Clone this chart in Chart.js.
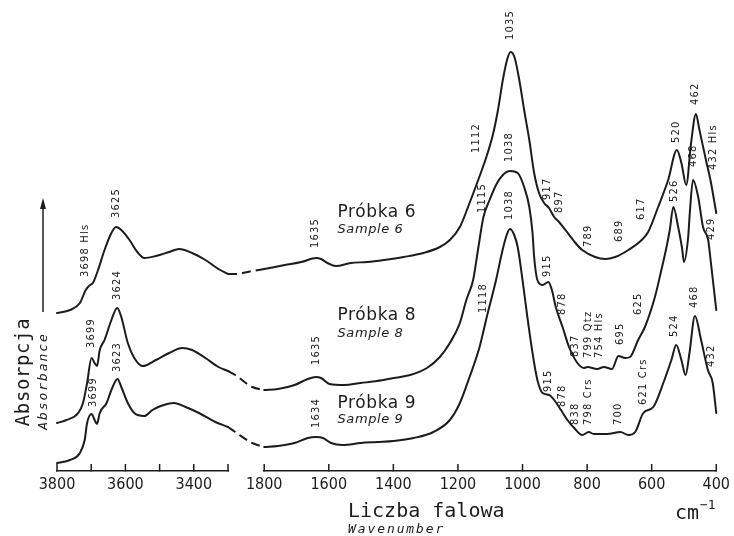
<!DOCTYPE html>
<html>
<head>
<meta charset="utf-8">
<script src="https://cdn.jsdelivr.net/npm/chart.js"></script>
<style>
  html, body { margin: 0; padding: 0; background: #fff; }
  canvas { display: block; }
</style>
</head>
<body>
<canvas id="ir" width="734" height="536"></canvas>
<script>
// --- spectra (absorbance in arbitrary units) ---
// OH-stretch region (3800-3300 cm-1)
const waveHi6 = [3800, 3762, 3733, 3716, 3703, 3695, 3680, 3661, 3641, 3627, 3612, 3588, 3565, 3545, 3511, 3472, 3443, 3405, 3366, 3328, 3300];
const absHi6 = [1.58, 1.61, 1.68, 1.81, 1.86, 1.88, 2.01, 2.21, 2.38, 2.44, 2.41, 2.31, 2.19, 2.13, 2.15, 2.19, 2.22, 2.18, 2.11, 2.02, 1.97];
const waveHi8 = [3800, 3772, 3738, 3724, 3712, 3699, 3690, 3683, 3675, 3661, 3641, 3624, 3612, 3593, 3574, 3550, 3511, 3472, 3434, 3405, 3366, 3328, 3300];
const absHi8 = [0.48, 0.51, 0.58, 0.68, 0.88, 1.13, 1.08, 1.05, 1.21, 1.31, 1.51, 1.63, 1.54, 1.28, 1.13, 1.05, 1.11, 1.18, 1.23, 1.21, 1.13, 1.04, 1.00];
const waveHi9 = [3800, 3762, 3733, 3719, 3712, 3699, 3690, 3683, 3675, 3655, 3641, 3623, 3612, 3593, 3574, 3545, 3521, 3497, 3458, 3424, 3385, 3337, 3300];
const absHi9 = [0.08, 0.11, 0.18, 0.31, 0.48, 0.57, 0.51, 0.47, 0.58, 0.68, 0.81, 0.92, 0.84, 0.68, 0.58, 0.55, 0.61, 0.65, 0.68, 0.64, 0.58, 0.49, 0.44];

// broken-axis bridge (dashed)
const waveGap = [3300, 3000, 2300, 1800];
const absGap6 = [1.97, 1.97, 2.00, 2.02];
const absGap8 = [1.00, 0.96, 0.84, 0.81];
const absGap9 = [0.44, 0.39, 0.28, 0.24];

// fingerprint region (1800-400 cm-1)
const waveLo6 = [1800, 1736, 1685, 1639, 1624, 1604, 1578, 1532, 1481, 1429, 1368, 1307, 1256, 1225, 1194, 1164, 1143, 1112, 1092, 1076, 1061, 1048, 1037, 1025, 1010, 995, 979, 964, 949, 933, 918, 902, 887, 867, 836, 815, 775, 744, 713, 672, 631, 611, 580, 549, 522, 508, 493, 478, 463, 452, 432, 418, 400];
const absLo6 = [2.02, 2.06, 2.09, 2.13, 2.12, 2.08, 2.05, 2.08, 2.09, 2.11, 2.14, 2.18, 2.24, 2.31, 2.44, 2.68, 2.86, 3.14, 3.36, 3.61, 3.91, 4.11, 4.19, 4.14, 3.91, 3.61, 3.31, 2.98, 2.78, 2.68, 2.63, 2.54, 2.49, 2.41, 2.28, 2.21, 2.14, 2.12, 2.14, 2.21, 2.31, 2.39, 2.64, 2.91, 3.21, 3.08, 2.86, 3.28, 3.57, 3.41, 3.11, 2.91, 2.58];
const waveLo8 = [1800, 1757, 1706, 1665, 1640, 1624, 1598, 1552, 1501, 1450, 1399, 1348, 1296, 1256, 1225, 1194, 1174, 1153, 1138, 1121, 1102, 1082, 1061, 1039, 1015, 995, 979, 969, 964, 954, 938, 920, 909, 897, 876, 856, 830, 810, 799, 769, 748, 723, 703, 682, 667, 642, 621, 590, 570, 554, 544, 533, 518, 506, 500, 487, 482, 472, 456, 441, 425, 420, 400];
const absLo8 = [0.81, 0.82, 0.86, 0.92, 0.94, 0.93, 0.87, 0.86, 0.88, 0.90, 0.93, 0.96, 1.03, 1.14, 1.28, 1.48, 1.71, 1.91, 2.21, 2.54, 2.71, 2.86, 2.96, 3.00, 2.98, 2.84, 2.64, 2.38, 2.14, 1.91, 1.86, 1.89, 1.81, 1.64, 1.44, 1.24, 1.08, 1.03, 1.04, 1.02, 1.04, 1.02, 1.15, 1.13, 1.14, 1.31, 1.44, 1.74, 2.01, 2.24, 2.41, 2.64, 2.44, 2.23, 2.09, 2.34, 2.58, 2.91, 2.74, 2.44, 2.31, 2.18, 1.61];
const waveLo9 = [1800, 1757, 1706, 1665, 1640, 1618, 1593, 1557, 1501, 1450, 1399, 1337, 1276, 1225, 1194, 1164, 1133, 1110, 1082, 1061, 1049, 1039, 1027, 1015, 1000, 985, 969, 954, 938, 917, 902, 881, 861, 840, 815, 795, 779, 738, 697, 672, 651, 626, 595, 564, 539, 524, 508, 495, 483, 466, 447, 426, 411, 400];
const absLo9 = [0.24, 0.25, 0.28, 0.33, 0.34, 0.33, 0.28, 0.26, 0.28, 0.29, 0.30, 0.33, 0.39, 0.51, 0.68, 0.94, 1.24, 1.55, 1.91, 2.22, 2.36, 2.42, 2.37, 2.24, 1.91, 1.54, 1.18, 0.91, 0.78, 0.76, 0.71, 0.61, 0.51, 0.43, 0.36, 0.39, 0.37, 0.37, 0.39, 0.36, 0.39, 0.58, 0.64, 0.88, 1.11, 1.26, 1.11, 0.96, 1.18, 1.55, 1.31, 1.01, 0.88, 0.58];

// peak labels: [text, wavenumber at label, absorbance at label foot]
const peaks6 = [["3698 Hls", 3719, 1.94], ["3625", 3627, 2.53], ["1635", 1641, 2.23], ["1112", 1145, 3.18], ["1035", 1039, 4.31], ["917", 923, 2.71], ["897", 887, 2.58], ["789", 797, 2.24], ["689", 701, 2.29], ["617", 634, 2.51], ["520", 523, 3.28], ["462", 464, 3.66], ["432 Hls", 411, 3.01]];
const peaks8 = [["3699", 3699, 1.23], ["3624", 3625, 1.71], ["1635", 1639, 1.06], ["1115", 1125, 2.58], ["1038", 1041, 3.09], ["915", 923, 1.94], ["878", 877, 1.56], ["837", 836, 1.14], ["799 Qtz", 797, 1.13], ["754 Hls", 762, 1.13], ["695", 698, 1.26], ["625", 641, 1.56], ["526", 531, 2.69], ["468", 472, 3.04], ["429", 416, 2.31]];
const peaks9 = [["3699", 3693, 0.64], ["3623", 3625, 0.99], ["1634", 1639, 0.43], ["1118", 1122, 1.58], ["1038", 1041, 2.51], ["915", 920, 0.79], ["878", 877, 0.64], ["838", 836, 0.46], ["798 Crs", 797, 0.46], ["700", 703, 0.46], ["621 Crs", 626, 0.66], ["524", 531, 1.34], ["468", 467, 1.63], ["432", 416, 1.04]];

// sample captions: [Polish, English, wavenumber, absorbance of first line, of second line]
const samples = [["Próbka 6", "Sample 6", 1573, 2.54, 2.38], ["Próbka 8", "Sample 8", 1573, 1.51, 1.34], ["Próbka 9", "Sample 9", 1573, 0.63, 0.48]];

const INK = "#1c1c1c";

function curve(axis, waves, abs, dashed) {
    return {
        xAxisID: axis,
        yAxisID: "y",
        data: waves.map((w, i) => ({ x: w, y: abs[i] })),
        borderColor: INK,
        borderWidth: 2,
        pointRadius: 0,
        fill: false,
        clip: false,
        cubicInterpolationMode: "monotone",
        borderDash: dashed ? [9, 5] : [],
        borderCapStyle: dashed ? "butt" : "round",
        borderJoinStyle: "round"
    };
}

const fixHeight = (s) => { s.height = 65; };

const tickMarks = {
    id: "tickMarks",
    afterDraw(chart) {
        const ctx = chart.ctx;
        ctx.save();
        ctx.strokeStyle = INK;
        ctx.lineWidth = 1.5;
        ["xL", "xR"].forEach((id) => {
            const s = chart.scales[id];
            s.ticks.forEach((t) => {
                const x = s.getPixelForValue(t.value);
                ctx.beginPath();
                ctx.moveTo(x, s.top + 0.5);
                ctx.lineTo(x, s.top - 7);
                ctx.stroke();
            });
        });
        ctx.restore();
    }
};

const annotations = {
    id: "annotations",
    afterDraw(chart) {
        const ctx = chart.ctx;
        const y = chart.scales.y;
        const area = chart.chartArea;
        ctx.save();
        ctx.fillStyle = INK;
        ctx.strokeStyle = INK;

        // rotated peak labels
        ctx.font = "11px 'Liberation Sans Narrow', 'DejaVu Sans Condensed', sans-serif";
        ctx.letterSpacing = "1.2px";
        ctx.textAlign = "left";
        ctx.textBaseline = "middle";
        [peaks6, peaks8, peaks9].forEach((list) => {
            list.forEach(([text, w, a]) => {
                const xs = w > 2500 ? chart.scales.xL : chart.scales.xR;
                ctx.save();
                ctx.translate(xs.getPixelForValue(w), y.getPixelForValue(a));
                ctx.rotate(-Math.PI / 2);
                ctx.fillText(text, 0, 0);
                ctx.restore();
            });
        });

        // sample captions
        ctx.textBaseline = "alphabetic";
        samples.forEach(([pl, en, w, a1, a2]) => {
            const x = chart.scales.xR.getPixelForValue(w);
            ctx.font = "17px 'DejaVu Sans', sans-serif";
            ctx.letterSpacing = "0.6px";
            ctx.fillText(pl, x, y.getPixelForValue(a1));
            ctx.font = "italic 13px 'DejaVu Sans', sans-serif";
            ctx.letterSpacing = "0.6px";
            ctx.fillText(en, x, y.getPixelForValue(a2));
        });

        // absorbance arrow
        const ax = area.left - 14;
        ctx.lineWidth = 1.5;
        ctx.beginPath();
        ctx.moveTo(ax, 312);
        ctx.lineTo(ax, 204);
        ctx.stroke();
        ctx.beginPath();
        ctx.moveTo(ax, 198);
        ctx.lineTo(ax - 3, 209);
        ctx.lineTo(ax + 3, 209);
        ctx.closePath();
        ctx.fill();

        // y titles (rotated)
        ctx.textAlign = "center";
        ctx.textBaseline = "middle";
        ctx.save();
        ctx.translate(24, 372);
        ctx.rotate(-Math.PI / 2);
        ctx.font = "19px 'DejaVu Sans Mono', monospace";
        ctx.letterSpacing = "0.6px";
        ctx.fillText("Absorpcja", 0, 0);
        ctx.restore();
        ctx.save();
        ctx.translate(44, 381);
        ctx.rotate(-Math.PI / 2);
        ctx.font = "italic 13px 'DejaVu Sans Mono', monospace";
        ctx.letterSpacing = "1.9px";
        ctx.fillText("Absorbance", 0, 0);
        ctx.restore();

        // x titles
        ctx.textAlign = "left";
        ctx.textBaseline = "alphabetic";
        ctx.font = "20px 'DejaVu Sans Mono', monospace";
        ctx.letterSpacing = "0px";
        ctx.fillText("Liczba falowa", 348, 517);
        ctx.font = "italic 13px 'DejaVu Sans Mono', monospace";
        ctx.letterSpacing = "1.9px";
        ctx.fillText("Wavenumber", 348, 533);
        ctx.font = "20px 'DejaVu Sans Mono', monospace";
        ctx.letterSpacing = "0px";
        ctx.fillText("cm", 675, 519);
        ctx.font = "13px 'DejaVu Sans Mono', monospace";
        ctx.fillText("\u22121", 700, 509);

        ctx.restore();
    }
};

const tickFont = { family: "'Liberation Sans Narrow', 'DejaVu Sans Condensed', sans-serif", size: 16 };

new Chart(document.getElementById("ir"), {
    type: "line",
    data: {
        datasets: [
            curve("xL", waveHi6, absHi6),
            curve("xL", waveHi8, absHi8),
            curve("xL", waveHi9, absHi9),
            curve("xG", waveGap, absGap6, true),
            curve("xG", waveGap, absGap8, true),
            curve("xG", waveGap, absGap9, true),
            curve("xR", waveLo6, absLo6),
            curve("xR", waveLo8, absLo8),
            curve("xR", waveLo9, absLo9)
        ]
    },
    options: {
        responsive: false,
        animation: false,
        devicePixelRatio: 1,
        layout: { padding: { left: 57, right: 12, top: 0, bottom: 0 } },
        plugins: { legend: { display: false }, tooltip: { enabled: false } },
        scales: {
            xL: {
                type: "linear", position: "bottom", stack: "wn", stackWeight: 172.5,
                reverse: true, min: 3300, max: 3800,
                afterFit: fixHeight,
                grid: { display: false, drawTicks: false },
                border: { display: true, color: INK, width: 1.5 },
                ticks: {
                    stepSize: 100, autoSkip: false, maxRotation: 0, padding: 4,
                    color: INK, font: tickFont,
                    callback: (v) => (v % 200 === 0 ? String(v) : "")
                }
            },
            xG: {
                type: "linear", position: "bottom", stack: "wn", stackWeight: 36.5,
                reverse: true, min: 1800, max: 3300,
                afterFit: fixHeight,
                grid: { display: false, drawTicks: false },
                border: { display: false },
                ticks: { display: false }
            },
            xR: {
                type: "linear", position: "bottom", stack: "wn", stackWeight: 456,
                reverse: true, min: 400, max: 1800,
                afterFit: fixHeight,
                grid: { display: false, drawTicks: false },
                border: { display: true, color: INK, width: 1.5 },
                ticks: {
                    stepSize: 200, autoSkip: false, maxRotation: 0, padding: 4,
                    color: INK, font: tickFont,
                    callback: (v) => String(v)
                }
            },
            y: { display: false, min: 0, max: 4.71 }
        }
    },
    plugins: [tickMarks, annotations]
});
</script>
</body>
</html>
